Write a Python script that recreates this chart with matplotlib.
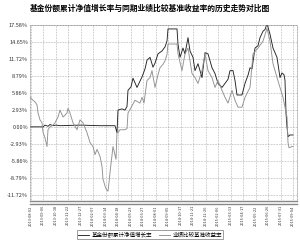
import matplotlib
matplotlib.use('Agg')
import matplotlib.pyplot as plt
from matplotlib.lines import Line2D

plt.rcParams['font.family'] = ['Noto Sans CJK SC', 'DejaVu Sans']

# trading day index, accumulated return (%)
fund_day = [0, 13, 15, 18, 20, 23, 26, 30, 50, 70, 85, 87, 88, 92, 95, 97, 98, 101, 103, 105,
            107, 110, 112, 115, 117, 120, 123, 125, 128, 132, 135, 137, 138, 147, 148, 150, 153,
            155, 158, 160, 163, 165, 168, 172, 175, 178, 182, 185, 188, 192, 195, 198, 200, 203,
            205, 207, 212, 215, 218, 220, 222, 225, 228, 230, 233, 235, 237, 240, 243, 247, 250,
            252, 254, 255, 256, 257, 258, 260, 263]
fund_val = [0.0, 0.0, 0.3, 0.1, 0.4, 0.2, 0.3, 0.2, 0.3, 0.2, 0.2, -1.0, 2.9, 3.1, 2.9, 3.5, 6.3,
            6.9, 8.4, 7.6, 6.8, 7.9, 8.6, 10.0, 11.5, 12.0, 10.3, 11.0, 12.6, 13.1, 13.8, 14.8,
            16.9, 16.9, 14.3, 12.0, 13.6, 12.6, 15.4, 13.1, 12.0, 9.7, 10.9, 8.5, 12.8, 12.6, 10.2,
            9.2, 7.5, 6.8, 7.5, 8.2, 9.7, 9.7, 8.0, 5.5, 5.5, 7.5, 8.9, 10.2, 10.0, 13.6, 14.0,
            15.4, 16.5, 16.8, 17.8, 16.0, 13.6, 12.0, 8.5, 9.3, 9.0, 8.0, 2.4, 0.0, -1.7, -1.4, -1.4]

bench_day = [0, 3, 5, 7, 8, 10, 12, 13, 15, 17, 18, 20, 23, 25, 28, 30, 33, 35, 37, 38, 40, 43,
             47, 50, 53, 57, 60, 63, 65, 67, 70, 72, 73, 75, 76, 78, 79, 80, 83, 86, 87, 88, 90,
             95, 97, 98, 101, 105, 110, 112, 114, 117, 120, 122, 125, 128, 130, 133, 135, 137,
             138, 147, 148, 152, 155, 158, 162, 165, 168, 172, 175, 178, 182, 185, 188, 192, 195,
             198, 202, 205, 208, 212, 215, 220, 223, 228, 233, 237, 240, 243, 247, 250, 253, 257,
             258, 259, 262, 263]
bench_val = [5.1, 4.6, 4.3, 3.8, 2.4, 1.2, 0.7, -0.9, -1.9, -3.4, -0.5, 0.0, 0.3, 0.7, 1.7, 2.9,
             1.7, 2.0, 2.4, 3.2, 2.4, 0.7, -0.5, 1.2, 0.7, -1.0, -2.7, -3.4, -4.8, -3.9, -5.1,
             -6.8, -9.0, -10.2, -10.7, -11.1, -9.6, -7.9, -3.4, -5.6, -1.0, -1.0, -0.5, -0.5,
             -0.3, 2.4, 3.3, 4.6, 4.1, 5.1, 4.1, 8.0, 8.5, 9.7, 6.8, 9.0, 10.2, 10.8, 11.4, 12.5,
             14.3, 14.3, 12.6, 9.7, 12.6, 13.6, 9.2, 8.5, 7.5, 9.7, 12.6, 9.7, 8.5, 6.8, 8.0, 6.3,
             5.1, 4.1, 6.3, 4.6, 3.4, 3.4, 5.1, 6.8, 12.6, 13.6, 14.8, 17.0, 14.8, 10.9, 8.5, 6.8,
             5.1, 1.7, -2.7, -3.6, -3.4, -3.4]

tick_days = [1, 13, 26, 38, 51, 63, 76, 88, 101, 113, 126, 138, 151, 163, 176, 188, 201, 213,
             226, 238, 251, 263]
tick_dates = ['2013-08-02', '2013-09-06', '2013-10-18', '2013-11-22', '2013-12-27', '2014-02-07',
              '2014-03-14', '2014-04-18', '2014-05-23', '2014-06-27', '2014-08-01', '2014-09-05',
              '2014-10-17', '2014-11-21', '2014-12-26', '2015-02-06', '2015-03-13', '2015-04-17',
              '2015-05-22', '2015-06-26', '2015-07-31', '2015-09-04']
y_ticks = [-11.72, -8.79, -5.86, -2.93, 0.0, 2.93, 5.86, 8.79, 11.72, 14.65, 17.58]

fig = plt.figure(figsize=(3.0, 2.42), dpi=100)
ax = fig.add_axes([0.1, 0.1694, 0.89, 0.7273])

ax.plot(fund_day, fund_val, color='#222222', lw=0.65, label='基金份额累计净值增长率')
ax.plot(bench_day, bench_val, color='#909090', lw=0.65, label='业绩比较基准收益率')

ax.set_xlim(0, 267)
ax.set_ylim(-12.8, 17.58)
ax.set_yticks(y_ticks)
ax.set_yticklabels(['%.2f%%' % v for v in y_ticks], fontsize=4, color='#333333')
ax.set_xticks(tick_days)
ax.set_xticklabels(tick_dates, rotation=90, fontsize=2.8, color='#333333')
ax.tick_params(length=0, pad=1.5)
ax.tick_params(axis='x', pad=3)
ax.grid(True, linestyle=(0, (1, 1.5)), color='#888888', lw=0.45)

for s in ['left', 'top', 'right']:
    ax.spines[s].set_linestyle((0, (1, 1.5)))
    ax.spines[s].set_color('#888888')
    ax.spines[s].set_linewidth(0.45)
ax.spines['bottom'].set_color('#888888')
ax.spines['bottom'].set_linewidth(1.0)
ax.add_line(Line2D([0, 1], [-0.017, -0.017], transform=ax.transAxes, color='#888888',
                   lw=1.0, clip_on=False))

fig.suptitle('基金份额累计净值增长率与同期业绩比较基准收益率的历史走势对比图',
             x=0.5, y=0.985, fontsize=5.6, fontweight='bold')

leg = fig.legend(loc='center', bbox_to_anchor=(0.5, 0.03), ncol=2, fontsize=4,
                 frameon=True, fancybox=False, handlelength=2, columnspacing=1.2,
                 borderpad=0.3, handletextpad=0.4)
leg.get_frame().set_edgecolor('#555555')
leg.get_frame().set_linewidth(0.5)

fig.savefig('out.png', dpi=100)
